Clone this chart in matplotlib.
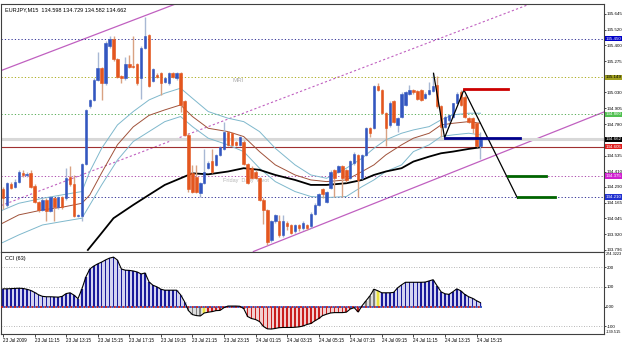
import numpy as np
import matplotlib.pyplot as plt
from matplotlib.transforms import blended_transform_factory

plt.rcParams['font.family'] = ['Liberation Sans', 'DejaVu Sans']

# ---- candle data (EURJPY M15) ----
opens = [134.27, 134.15, 134.31, 134.29, 134.33, 134.40, 134.38, 134.40, 134.30, 134.17,
         134.11, 134.19, 134.10, 134.20, 134.13, 134.21, 134.20, 134.37, 134.31, 134.06,
         134.06, 134.47, 134.92, 134.97, 135.13, 135.22, 135.10, 135.39, 135.45, 135.29,
         135.16, 135.14, 135.25, 135.24, 135.25, 135.14, 135.38, 135.48, 135.12, 135.17,
         135.18, 135.11, 135.10, 135.18, 135.14, 135.18, 134.96, 134.70, 134.40, 134.37,
         134.24, 134.32, 134.44, 134.49, 134.46, 134.54, 134.59, 134.72, 134.71, 134.645,
         134.62, 134.645, 134.47, 134.44, 134.41, 134.36, 134.19, 134.11, 133.87, 134.02,
         134.02, 133.91, 134.005, 133.99, 133.94, 133.99, 133.965, 133.99, 133.98, 134.08,
         134.15, 134.27, 134.17, 134.28, 134.42, 134.41, 134.45, 134.42, 134.36, 134.475,
         134.54, 134.36, 134.54, 134.75, 134.75, 135.08, 135.05, 134.87, 134.775, 134.96,
         134.775, 134.84, 134.93, 135.02, 135.05, 135.04, 135.05, 134.985, 135.015, 135.04,
         135.09, 134.92, 134.76, 134.815, 134.84, 134.945, 135.03, 134.997, 134.83, 134.83,
         134.79, 134.61]
closes = [134.20, 134.32, 134.28, 134.33, 134.41, 134.38, 134.39, 134.29, 134.17, 134.11,
          134.19, 134.10, 134.21, 134.13, 134.21, 134.13, 134.36, 134.31, 134.06, 134.07,
          134.47, 134.89, 134.97, 135.13, 135.22, 135.10, 135.42, 135.45, 135.29, 135.15,
          135.14, 135.25, 135.23, 135.23, 135.10, 135.38, 135.47, 135.08, 135.21, 135.15,
          135.10, 135.14, 135.18, 135.15, 135.18, 134.93, 134.70, 134.27, 134.25, 134.25,
          134.32, 134.41, 134.48, 134.41, 134.54, 134.60, 134.72, 134.62, 134.62, 134.62,
          134.68, 134.47, 134.32, 134.36, 134.36, 134.19, 134.11, 133.86, 134.02, 134.07,
          133.91, 134.02, 133.98, 133.93, 133.99, 133.965, 134.005, 133.965, 134.08, 134.15,
          134.23, 134.23, 134.25, 134.41, 134.36, 134.45, 134.36, 134.34, 134.49, 134.55,
          134.34, 134.54, 134.75, 134.71, 135.08, 135.05, 134.87, 134.75, 134.95, 134.80,
          134.83, 135.02, 135.03, 135.05, 135.03, 134.98, 134.97, 135.02, 135.05, 135.08,
          134.92, 134.76, 134.84, 134.85, 134.945, 135.016, 134.93, 134.84, 134.80, 134.75,
          134.61, 134.662]
highs = [134.29, 134.33, 134.33, 134.35, 134.42, 134.42, 134.41, 134.42, 134.31, 134.18,
         134.20, 134.20, 134.22, 134.21, 134.22, 134.22, 134.44, 134.45, 134.38, 134.08,
         134.48, 134.90, 134.98, 135.14, 135.35, 135.23, 135.43, 135.47, 135.47, 135.30,
         135.17, 135.31, 135.32, 135.47, 135.26, 135.39, 135.62, 135.49, 135.22, 135.18,
         135.19, 135.15, 135.19, 135.19, 135.19, 135.19, 134.97, 134.71, 134.46, 134.46,
         134.33, 134.59, 134.49, 134.59, 134.55, 134.61, 134.80, 134.73, 134.72, 134.65,
         134.69, 134.66, 134.48, 134.45, 134.42, 134.37, 134.20, 134.12, 134.03, 134.08,
         134.07, 134.07, 134.02, 134.00, 134.00, 134.00, 134.02, 134.00, 134.09, 134.16,
         134.24, 134.28, 134.26, 134.42, 134.43, 134.46, 134.46, 134.43, 134.50, 134.56,
         134.55, 134.55, 134.76, 134.76, 135.09, 135.10, 135.06, 134.88, 134.96, 134.97,
         134.84, 135.03, 135.04, 135.09, 135.06, 135.05, 135.06, 135.03, 135.11, 135.18,
         135.16, 134.93, 134.85, 134.86, 134.95, 135.03, 135.05, 135.01, 134.84, 134.84,
         134.80, 134.72]
lows = [134.12, 134.13, 134.27, 134.28, 134.32, 134.37, 134.37, 134.28, 134.16, 134.09,
        134.10, 134.02, 134.09, 134.02, 134.12, 134.12, 134.19, 134.30, 134.05, 134.05,
        134.02, 134.46, 134.91, 134.96, 135.12, 134.97, 135.09, 135.38, 135.28, 135.14,
        135.10, 135.13, 135.22, 135.22, 135.09, 134.98, 135.37, 135.07, 135.11, 135.14,
        135.01, 135.10, 135.09, 135.14, 135.13, 134.88, 134.69, 134.25, 134.24, 134.24,
        134.21, 134.31, 134.43, 134.40, 134.45, 134.53, 134.58, 134.61, 134.61, 134.61,
        134.61, 134.46, 134.31, 134.35, 134.35, 134.18, 134.00, 133.835, 133.86, 134.01,
        133.90, 133.90, 133.95, 133.92, 133.93, 133.94, 133.955, 133.955, 133.97, 134.07,
        134.14, 134.20, 134.16, 134.27, 134.21, 134.40, 134.21, 134.33, 134.35, 134.46,
        134.21, 134.35, 134.53, 134.68, 134.74, 135.04, 134.86, 134.61, 134.76, 134.79,
        134.72, 134.83, 134.92, 135.01, 135.02, 134.97, 134.96, 134.98, 135.01, 135.03,
        134.91, 134.68, 134.75, 134.80, 134.83, 134.94, 134.92, 134.83, 134.79, 134.71,
        134.60, 134.51]

# moving averages / envelope, sampled at (bar, price)
ma_bars = [-1, 4, 10, 15, 20, 22, 25, 29, 33, 37, 41, 45, 48, 52, 57, 61, 65, 69, 74, 78,
           82, 87, 91, 94, 97, 101, 104, 108, 111, 114, 118, 121]
env_up = [134.096, 134.161, 134.200, 134.227, 134.253, 134.41, 134.592, 134.775, 134.880, 134.971,
          135.024, 135.063, 134.984, 134.880, 134.828, 134.801, 134.723, 134.592, 134.462, 134.383,
          134.357, 134.436, 134.514, 134.592, 134.658, 134.710, 134.736, 134.762, 134.815, 134.854,
          134.867, 134.867]
ma_mid = [133.991, 134.07, 134.109, 134.130, 134.161, 134.227, 134.40, 134.62, 134.76, 134.85,
          134.893, 134.932, 134.841, 134.749, 134.723, 134.684, 134.566, 134.462, 134.383, 134.344,
          134.331, 134.344, 134.410, 134.462, 134.540, 134.619, 134.671, 134.710, 134.775, 134.788,
          134.801, 134.788]
env_dn = [133.840, 133.913, 133.991, 134.018, 134.044, 134.148, 134.305, 134.50, 134.645, 134.723,
          134.801, 134.841, 134.762, 134.671, 134.619, 134.566, 134.436, 134.331, 134.253, 134.214,
          134.206, 134.214, 134.292, 134.344, 134.410, 134.462, 134.566, 134.619, 134.684, 134.697,
          134.710, 134.697]
slow_bars = [21.5, 24.6, 28, 33, 37, 41, 45, 48, 52, 57, 61, 65, 69, 74, 78, 82, 87, 91, 94,
             97, 101, 104, 108, 111, 114, 118, 121]
slow_ma = [133.795, 133.913, 134.044, 134.148, 134.227, 134.305, 134.357, 134.396, 134.388, 134.410,
           134.436, 134.423, 134.383, 134.344, 134.305, 134.305, 134.318, 134.344, 134.383, 134.410,
           134.436, 134.488, 134.527, 134.553, 134.566, 134.587, 134.600]

# zigzag and projection
zz_bars = [109.1, 111.9, 116.8, 130.4]
zz_price = [135.18, 134.675, 135.05, 134.20]

# horizontal levels
levels = [135.450, 135.149, 134.860, 134.375, 134.210]
level_cols = ['#1a1a8a', '#a0a000', '#40a040', '#a030a0', '#1a1a8a']
bid, bid_label = 134.662, '134.662'
pivot_line = 134.605

# CCI(63)
cci = [90, 90, 91, 92, 93, 92, 88, 82, 72, 60, 52, 50, 50, 49, 48, 52, 66, 70, 58, 40,
       90, 150, 190, 205, 216, 225, 236, 245, 250, 235, 190, 184, 183, 180, 175, 165, 170, 125, 108, 100,
       88, 83, 83, 83, 83, 60, 25, -20, -40, -45, -47, -32, -28, -25, -20, -19, -5, 3, 3, 3,
       2, -10, -50, -60, -65, -75, -100, -112, -113, -110, -106, -105, -105, -105, -104, -102, -98, -90, -85, -72,
       -60, -45, -38, -32, -30, -30, -30, -28, -12, -5, -27, 5, 30, 55, 88, 80, 70, 70, 70, 72,
       95, 110, 123, 123, 123, 123, 123, 124, 130, 136, 105, 75, 65, 62, 75, 90, 80, 62, 50, 42,
       30, 20]
gray_bars = [47, 48, 49, 50, 92, 93, 94]
yellow_bars = [51, 95]

date_labels = ['23 Jul 2009', '23 Jul 11:15', '23 Jul 13:15', '23 Jul 15:15', '23 Jul 17:15',
               '23 Jul 19:15', '23 Jul 21:15', '23 Jul 23:15', '24 Jul 01:15', '24 Jul 03:15',
               '24 Jul 05:15', '24 Jul 07:15', '24 Jul 09:15', '24 Jul 11:15', '24 Jul 13:15',
               '24 Jul 15:15']
# 135.150 and 134.660 sit under the coloured price boxes
price_ticks = [135.645, 135.520, 135.400, 135.275, 135.030, 134.905, 134.780,
               134.535, 134.410, 134.290, 134.165, 134.045, 133.920, 133.796]

fig = plt.figure(figsize=(6.25, 3.45), dpi=100)
ax = fig.add_axes([0.0016, 0.271, 0.9648, 0.7174])
ax2 = fig.add_axes([0.0016, 0.031, 0.9648, 0.2377])
fs = 3.2

x = np.arange(len(closes))
o = np.array(opens); c = np.array(closes); h = np.array(highs); l = np.array(lows)
up = c >= o

# channel lines
ax.axline((-0.76, 135.198), (41.1, 135.692), color='#c060c0', lw=0.9, zorder=1)
ax.axline((39.8, 134.618), (124.9, 135.621), color='#c060c0', lw=0.8, ls=(0, (2, 2)), zorder=1)
ax.axline((93.1, 134.148), (133.8, 134.649), color='#c060c0', lw=0.9, zorder=1)

for lv, col in zip(levels, level_cols):
    ax.axhline(lv, color=col, lw=0.6, ls=(0, (1.5, 2.5)), zorder=1)
ax.axhline(bid, color='#d8d8d8', lw=2.2, zorder=1)
ax.axhline(pivot_line, color='#a03030', lw=0.8, zorder=1)

ax.plot(ma_bars, env_up, color='#7fb8cc', lw=0.7, zorder=2)
ax.plot(ma_bars, ma_mid, color='#a0523a', lw=0.7, zorder=2)
ax.plot(ma_bars, env_dn, color='#7fb8cc', lw=0.7, zorder=2)
ax.plot(slow_bars, slow_ma, color='black', lw=1.3, zorder=2)

# candles
wick_cols = np.where(up, '#a8b8d4', '#d9a282')
body_cols = np.where(up, '#3356c0', '#e4561e')
ax.vlines(x, l, h, colors=wick_cols, lw=1.0, zorder=3)
ax.bar(x, np.abs(c - o), bottom=np.minimum(o, c), width=0.62, color=body_cols,
       edgecolor=body_cols, lw=0.4, zorder=4)

# zigzag + target segments
ax.plot(zz_bars, zz_price, color='black', lw=0.9, zorder=5)
ax.plot([116.8, 127.9], [135.057, 135.057], color='#cc0000', lw=2.0, zorder=5)
ax.plot([111.9, 131.0], [134.675, 134.675], color='#00008b', lw=2.0, zorder=5)
ax.plot([127.9, 137.5], [134.375, 134.375], color='#006400', lw=2.0, zorder=5)
ax.plot([130.4, 140.0], [134.210, 134.210], color='#006400', lw=2.0, zorder=5)

ax.text(59.5, 135.125, 'MRI', fontsize=4.5, color='#b0b0b0', ha='center', va='center')
ax.text(55.8, 134.34, 'Friday  Daily  Pivot', fontsize=4, color='#b8b8b8', ha='left', va='center')
ax.text(0.006, 0.985, 'EURJPY,M15  134.598 134.729 134.582 134.662', transform=ax.transAxes,
        fontsize=4.0, ha='left', va='top', color='black')

ax.set_xlim(-0.51, 152.3)
ax.set_ylim(133.783, 135.723)
ax.yaxis.tick_right()
ax.set_yticks(price_ticks)
ax.set_yticklabels(['%.3f' % v for v in price_ticks])
ax.tick_params(axis='y', labelsize=fs, length=1.2, width=0.5, pad=0.5)
ax.set_xticks([])

tr = blended_transform_factory(ax.transAxes, ax.transData)
boxes = [(135.450, '135.450', '#0000c8', 'white'), (135.149, '135.149', '#a0a020', 'black'),
         (134.860, '134.860', '#50c050', 'white'), (bid, bid_label, 'black', 'white'),
         (pivot_line, '134.605', '#e02020', 'white'), (134.375, '134.375', '#d020d0', 'white'),
         (134.210, '134.210', '#2030d0', 'white')]
for yv, txt, bg, fg in boxes:
    ax.text(1.0025, yv, txt, transform=tr, fontsize=fs, color=fg, ha='left', va='center',
            bbox=dict(boxstyle='square,pad=0.12', fc=bg, ec='none'), clip_on=False)

# ---- CCI panel ----
cci = np.array(cci)
cols = np.where(cci >= 0, '#1a1a9a', '#c81e1e').astype(object)
light = np.where(cci >= 0, '#d4d4f0', '#f2d0d0').astype(object)
for i in gray_bars:
    cols[i] = '#808080'; light[i] = '#dddddd'
for i in yellow_bars:
    cols[i] = '#e8e040'; light[i] = '#f4f0a0'
ax2.bar(x, cci, width=1.0, color=list(light), zorder=1)
ax2.bar(x, cci, width=0.42, color=list(cols), zorder=2)
for lv in [200, 100, -100]:
    ax2.axhline(lv, color='#a0a0a0', lw=0.6, ls=(0, (1, 2)), zorder=0)
ax2.plot([-0.5, 121.5], [0, 0], color='#c81e1e', lw=1.3, ls=(0, (1.2, 1.2)), zorder=3)
ax2.plot([-0.5, 121.5], [0, 0], color='#3050c0', lw=1.3, ls=(1.2, (1.2, 1.2)), zorder=3)
ax2.plot(x, cci, color='black', lw=0.8, zorder=4)

ax2.set_xlim(-0.51, 152.3)
ax2.set_ylim(-139.515, 274.3223)
ax2.yaxis.tick_right()
ax2.set_yticks([200, 100, 0, -100])
ax2.set_yticklabels(['200', '100', '0.00', '-100'])
ax2.tick_params(axis='y', labelsize=fs, length=1.2, width=0.5, pad=0.5)
ax2.text(1.003, 0.975, '274.3223', transform=ax2.transAxes, fontsize=2.8, va='center', ha='left')
ax2.text(1.003, 0.025, '-139.515', transform=ax2.transAxes, fontsize=2.8, va='center', ha='left')
ax2.text(0.006, 0.95, 'CCI (63)', transform=ax2.transAxes, fontsize=4.0, va='top', ha='left')
ax2.set_xticks(np.arange(0, 121, 8))
ax2.set_xticklabels(date_labels, ha='left')
ax2.tick_params(axis='x', labelsize=3.3, length=2, width=0.5, pad=1)

for a in (ax, ax2):
    for s in a.spines.values():
        s.set_color('#404040'); s.set_linewidth(0.8)

fig.savefig('out.png', dpi=100)
